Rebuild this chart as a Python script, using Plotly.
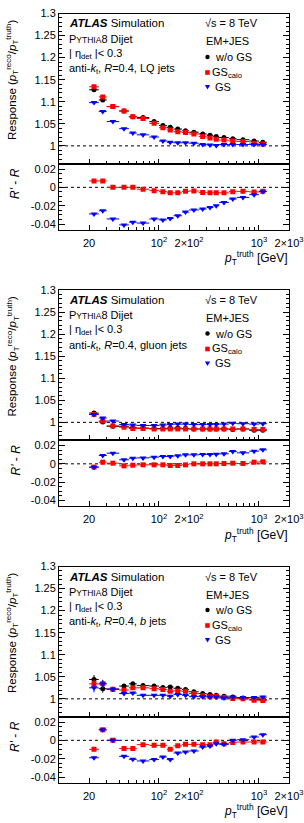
import numpy as np
import plotly.graph_objects as go

W, H = 304, 823
FONT = "Liberation Sans, Arial, Helvetica, sans-serif"

# ---------------- data ----------------
bin_edges = [20, 25, 30, 40, 50, 60, 80, 100, 120, 140, 170, 200, 250, 300, 350,
             400, 500, 600, 800, 1000, 1200]
pt = [22.4, 27.4, 34.6, 44.7, 54.8, 69.3, 89.4, 109.5, 129.6, 154.3, 184.4, 223.6,
      273.9, 324.0, 374.2, 447.2, 547.7, 692.8, 894.4, 1095.4]

x_tickvals = [20, 100, 200, 1000, 2000]
x_ticktext = ["20", "10<sup>2</sup>", "2×10<sup>2</sup>", "10<sup>3</sup>", "2×10<sup>3</sup>"]
x_minorvals = [30, 40, 50, 60, 70, 80, 90, 300, 400, 500, 600, 700, 800, 900]
ymain_tickvals = [1.0, 1.05, 1.1, 1.15, 1.2, 1.25, 1.3]
ymain_ticktext = ["1", "1.05", "1.1", "1.15", "1.2", "1.25", "1.3"]
yrat_tickvals = [-0.04, -0.02, 0.0, 0.02]
yrat_ticktext = ["-0.04", "-0.02", "0", "0.02"]

# LQ jets
lq_wo = [1.127, 1.104, 1.089, 1.079, 1.066, 1.064, 1.055, 1.046, 1.042, 1.038, 1.034, 1.031,
         1.027, 1.024, 1.021, 1.019, 1.016, 1.014, 1.011, 1.008]
lq_calo = [1.134, 1.111, 1.089, 1.079, 1.066, 1.062, 1.051, 1.041, 1.036, 1.032, 1.030, 1.027,
           1.021, 1.018, 1.015, 1.013, 1.011, 1.010, 1.006, 1.004]
lq_gs = [1.098, 1.078, 1.055, 1.039, 1.029, 1.025, 1.020, 1.011, 1.008, 1.007, 1.007, 1.006,
         1.003, 1.002, 1.001, 1.003, 1.003, 1.003, 1.003, 1.003]
lq_err = [0.003, 0.003, 0.002, 0.002, 0.001, 0.001, 0.001, 0.001, 0.001, 0.001, 0.001, 0.001,
          0.001, 0.001, 0.001, 0.001, 0.001, 0.001, 0.001, 0.001]
lq_d_calo = [0.007, 0.007, 0.0, 0.0, 0.0, -0.002, -0.0036, -0.0047, -0.006, -0.006, -0.0044, -0.004,
             -0.0055, -0.006, -0.006, -0.006, -0.0047, -0.0044, -0.005, -0.0044]
lq_d_gs = [-0.029, -0.0255, -0.0345, -0.041, -0.038, -0.039, -0.0345, -0.0355, -0.034, -0.031,
           -0.027, -0.0247, -0.0236, -0.022, -0.020, -0.0165, -0.0127, -0.011, -0.008, -0.0047]

# gluon jets
g_wo = [1.021, 1.001, 0.991, 0.991, 0.988, 0.987, 0.986, 0.986, 0.987, 0.987, 0.986, 0.985,
        0.985, 0.985, 0.985, 0.985, 0.984, 0.985, 0.982, 0.982]
g_calo = [1.018, 1.003, 0.992, 0.989, 0.986, 0.986, 0.985, 0.985, 0.985, 0.985, 0.985, 0.985,
          0.985, 0.985, 0.985, 0.985, 0.985, 0.985, 0.984, 0.984]
g_gs = [1.018, 1.010, 1.003, 0.995, 0.994, 0.993, 0.993, 0.994, 0.995, 0.996, 0.996, 0.995,
        0.995, 0.995, 0.995, 0.996, 0.998, 0.997, 0.996, 0.997]
g_err = [0.002, 0.002, 0.001, 0.001, 0.001, 0.001, 0.001, 0.001, 0.001, 0.001, 0.001, 0.001,
         0.001, 0.001, 0.001, 0.001, 0.001, 0.001, 0.001, 0.001]
g_d_calo = [-0.0036, 0.0018, 0.0007, -0.0022, -0.0015, -0.0011, -0.0011, -0.0011, -0.0018, -0.0018,
            -0.0011, 0.0, 0.0, 0.0, 0.0, 0.0004, 0.0007, 0.0004, 0.0018, 0.0022]
g_d_gs = [-0.0036, 0.0091, 0.0116, 0.0044, 0.0062, 0.0065, 0.0073, 0.008, 0.008, 0.0087,
          0.0098, 0.0098, 0.0102, 0.0102, 0.0105, 0.0109, 0.0135, 0.012, 0.0138, 0.0153]

# b jets
b_wo = [1.044, 1.023, 1.022, 1.029, 1.034, 1.030, 1.029, 1.026, 1.027, 1.024, 1.021, 1.016,
        1.012, 1.010, 1.008, 1.006, 1.004, 1.002, 0.999, 0.998]
b_calo = [1.034, 1.034, 1.022, 1.020, 1.025, 1.025, 1.023, 1.021, 1.017, 1.018, 1.017, 1.012,
          1.007, 1.005, 1.006, 1.003, 1.001, 1.000, 0.997, 0.996]
b_gs = [1.025, 1.034, 1.022, 1.012, 1.013, 1.008, 1.008, 1.008, 1.006, 1.010, 1.008, 1.005,
        1.005, 1.004, 1.004, 1.002, 1.004, 1.003, 1.003, 1.004]
b_err = [0.010, 0.009, 0.004, 0.004, 0.003, 0.003, 0.003, 0.003, 0.003, 0.002, 0.002, 0.002,
         0.002, 0.002, 0.002, 0.002, 0.002, 0.002, 0.003, 0.003]
b_d_calo = [-0.0098, 0.0115, 0.0, -0.009, -0.009, -0.0047, -0.0055, -0.0055, -0.0098, -0.006,
            -0.0044, -0.0044, -0.0047, -0.0047, -0.0018, -0.0036, -0.0025, -0.0018, -0.0018, -0.0018]
b_d_gs = [-0.019, 0.0115, 0.0, -0.0175, -0.0207, -0.0225, -0.021, -0.0182, -0.021, -0.0138,
          -0.0127, -0.0116, -0.0073, -0.0062, -0.0036, -0.0044, 0.0, 0.0007, 0.0036, 0.0062]
b_rerr = [0.002, 0.0015, 0.001, 0.001, 0.001, 0.001, 0.001, 0.001, 0.001, 0.001, 0.001, 0.001,
          0.001, 0.001, 0.001, 0.001, 0.001, 0.001, 0.001, 0.001]

jet_labels = ["LQ jets", "gluon jets", "<i>b</i> jets"]

panels = [
    dict(wo=lq_wo, calo=lq_calo, gs=lq_gs, err=lq_err, dcalo=lq_d_calo, dgs=lq_d_gs,
         rerr=[0.001] * 20),
    dict(wo=g_wo, calo=g_calo, gs=g_gs, err=g_err, dcalo=g_d_calo, dgs=g_d_gs,
         rerr=[0.001] * 20),
    dict(wo=b_wo, calo=b_calo, gs=b_gs, err=b_err, dcalo=b_d_calo, dgs=b_d_gs,
         rerr=b_rerr),
]

# ---------------- layout geometry ----------------
tops = [13.5, 290.0, 566.5]
MAIN_H, RAT_H = 150.0, 66.0
XL, XR = 59.0, 289.0
RED, BLUE, BLACK = "#ff0000", "#0000ff", "#000000"

pt_a = np.array(pt)
lo = np.array(bin_edges[:-1])
hi = np.array(bin_edges[1:])
ex_plus = (hi - pt_a).tolist()
ex_minus = (pt_a - lo).tolist()


def fy(p):
    return 1 - p / H


def fx(p):
    return p / W


fig = go.Figure()
layout = {}
shapes = []
annotations = []


def ann(text, xp, yp, size=11, xanchor="left", yanchor="middle", angle=0):
    annotations.append(dict(text=text, x=fx(xp), y=fy(yp), xref="paper", yref="paper",
                            xanchor=xanchor, yanchor=yanchor, showarrow=False, textangle=angle,
                            font=dict(size=size, color="black", family=FONT),
                            borderpad=0))


def axname(k):
    return "" if k == 1 else str(k)


def add_series(k, yvals, yerr, color, symbol, size):
    fig.add_trace(go.Scatter(
        x=pt, y=yvals, mode="markers",
        marker=dict(symbol=symbol, size=size, color=color, line=dict(width=0)),
        error_x=dict(type="data", symmetric=False, array=ex_plus, arrayminus=ex_minus,
                     width=0, thickness=1, color=color),
        error_y=dict(type="data", array=yerr, width=0, thickness=1, color=color),
        xaxis="x" + axname(k), yaxis="y" + axname(k), showlegend=False, cliponaxis=True))


common_x = dict(type="log", range=[1.0, np.log10(2000)], domain=[fx(XL), fx(XR)],
                ticks="inside", ticklen=5, tickwidth=1, tickcolor="black",
                showline=True, linecolor="black", linewidth=1, mirror=True,
                tickmode="array", tickvals=x_tickvals, ticktext=x_ticktext,
                minor=dict(tickmode="array", tickvals=x_minorvals, ticks="inside",
                           ticklen=3, tickcolor="black", tickwidth=1),
                showgrid=False, zeroline=False, automargin=False,
                tickfont=dict(size=11, family=FONT, color="black"))
common_y = dict(ticks="inside", ticklen=6, tickwidth=1, tickcolor="black",
                showline=True, linecolor="black", linewidth=1, mirror="ticks",
                showgrid=False, zeroline=False, automargin=False,
                tickfont=dict(size=11, family=FONT, color="black"))

for i, P in enumerate(panels):
    top = tops[i]
    km, kr = 2 * i + 1, 2 * i + 2
    main_dom = [fy(top + MAIN_H), fy(top)]
    rat_dom = [fy(top + MAIN_H + RAT_H), fy(top + MAIN_H)]

    layout["xaxis" + axname(km)] = dict(common_x, anchor="y" + axname(km), showticklabels=False)
    layout["xaxis" + axname(kr)] = dict(common_x, anchor="y" + axname(kr), showticklabels=True,
                                        ticklabelstandoff=3)
    layout["yaxis" + axname(km)] = dict(common_y, anchor="x" + axname(km), domain=main_dom,
                                        range=[0.96, 1.3], tickmode="array",
                                        tickvals=ymain_tickvals, ticktext=ymain_ticktext,
                                        minor=dict(dtick=0.01, ticks="inside", ticklen=3,
                                                   tickcolor="black", tickwidth=1))
    layout["yaxis" + axname(kr)] = dict(common_y, anchor="x" + axname(kr), domain=rat_dom,
                                        range=[-0.046, 0.026], tickmode="array",
                                        tickvals=yrat_tickvals, ticktext=yrat_ticktext,
                                        minor=dict(dtick=0.005, ticks="inside", ticklen=3,
                                                   tickcolor="black", tickwidth=1))

    # reference lines
    shapes.append(dict(type="line", xref="x" + axname(km) + " domain", x0=0, x1=1,
                       yref="y" + axname(km), y0=1, y1=1, layer="below",
                       line=dict(color="black", width=1, dash="dot")))
    shapes.append(dict(type="line", xref="x" + axname(kr) + " domain", x0=0, x1=1,
                       yref="y" + axname(kr), y0=0, y1=0, layer="below",
                       line=dict(color="black", width=1, dash="dot")))

    # data
    add_series(km, P["wo"], P["err"], BLACK, "circle", 5)
    add_series(km, P["calo"], P["err"], RED, "square", 5)
    add_series(km, P["gs"], P["err"], BLUE, "triangle-down", 6)
    add_series(kr, P["dcalo"], P["rerr"], RED, "square", 5)
    add_series(kr, P["dgs"], P["rerr"], BLUE, "triangle-down", 6)

    # text
    off = top - 13.5
    ann("<b><i>ATLAS</i></b> Simulation", 68, 23.5 + off, size=11.5)
    ann("P<span style='font-size:8.5px'>YTHIA</span>8 Dijet", 68, 38.5 + off, size=11)
    ann("| η<sub>det</sub> |< 0.3", 68, 53.5 + off, size=11)
    ann("anti-<i>k</i><sub>t</sub>, <i>R</i>=0.4, " + jet_labels[i], 68, 69 + off, size=11)
    ann("√s = 8 TeV", 204, 23.5 + off, size=11)
    ann("EM+JES", 205, 41.5 + off, size=11)
    ann("w/o GS", 214, 57 + off, size=11)
    ann("GS<sub>calo</sub>", 211, 72.5 + off, size=11)
    ann("GS", 214, 87 + off, size=11)
    # legend markers
    cx = 207.5
    cy = 57 + off
    shapes.append(dict(type="circle", xref="paper", yref="paper",
                       x0=fx(cx - 2.2), x1=fx(cx + 2.2), y0=fy(cy + 2.2), y1=fy(cy - 2.2),
                       fillcolor=BLACK, line=dict(width=0)))
    cy = 72.5 + off
    shapes.append(dict(type="rect", xref="paper", yref="paper",
                       x0=fx(cx - 2.3), x1=fx(cx + 2.3), y0=fy(cy + 2.3), y1=fy(cy - 2.3),
                       fillcolor=RED, line=dict(width=0)))
    cy = 87 + off
    shapes.append(dict(type="path", xref="paper", yref="paper",
                       path="M %f,%f L %f,%f L %f,%f Z" % (fx(cx - 2.6), fy(cy - 2.0),
                                                          fx(cx + 2.6), fy(cy - 2.0),
                                                          fx(cx), fy(cy + 2.4)),
                       fillcolor=BLUE, line=dict(width=0)))

    # axis titles
    ann("Response (<i>p</i><sub>T</sub><sup>reco</sup>/<i>p</i><sub>T</sub><sup>truth</sup>)",
        12, 80 + off, size=11.5, xanchor="center", angle=-90)
    ann("<i>R'</i> - <i>R</i>", 15, 184 + off, size=12, xanchor="center", angle=-90)
    ann("<i>p</i><sub>T</sub><sup>truth</sup> [GeV]", 289, 258 + off, size=12,
        xanchor="right")

fig.update_layout(
    width=W, height=H, margin=dict(l=0, r=0, t=0, b=0),
    paper_bgcolor="white", plot_bgcolor="white",
    font=dict(family=FONT, size=11, color="black"),
    shapes=shapes, annotations=annotations, showlegend=False,
    **layout)

fig.write_html("out.html")
